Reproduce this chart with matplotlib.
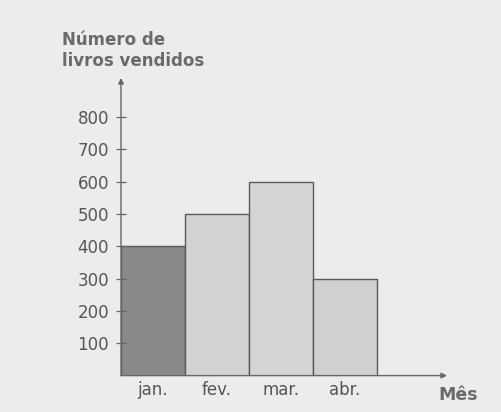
import matplotlib
matplotlib.use('Agg')
import matplotlib.pyplot as plt

meses = ['jan.', 'fev.', 'mar.', 'abr.']
livros = [400, 500, 600, 300]
cores = ['#898989', '#d2d2d2', '#d4d4d4', '#d0d0d0']
yticks = [100, 200, 300, 400, 500, 600, 700, 800]

fig = plt.figure(figsize=(5.01, 4.12), dpi=100, facecolor='#ececec')
ax = fig.add_axes([121 / 501, (412 - 375.6) / 412, 326 / 501, (375.6 - 78) / 412])
ax.set_facecolor('#ececec')

pos = [i + 0.5 for i in range(len(meses))]
ax.bar(pos, livros, width=1.0, color=cores, edgecolor='#5a5a5a', linewidth=1.0)

ax.set_xlim(0, 5.1)
ax.set_ylim(0, 921)
for s in ['top', 'right', 'left', 'bottom']:
    ax.spines[s].set_visible(False)

# eixos com setas
ax.annotate('', xy=(5.1, 0), xytext=(0, 0),
            arrowprops=dict(arrowstyle='-|>', color='#666666', lw=1.0,
                            mutation_scale=8, shrinkA=0, shrinkB=0))
ax.annotate('', xy=(0, 921), xytext=(0, 0),
            arrowprops=dict(arrowstyle='-|>', color='#666666', lw=1.0,
                            mutation_scale=8, shrinkA=0, shrinkB=0))

ax.set_yticks(yticks)
ax.set_yticklabels([str(v) for v in yticks])
ax.tick_params(axis='y', direction='inout', length=7, width=0.9, color='#666666',
               labelsize=12, labelcolor='#555555', pad=5)
ax.set_xticks(pos)
ax.set_xticklabels(meses)
ax.tick_params(axis='x', length=0, labelsize=12, labelcolor='#555555', pad=4)

fig.text(62 / 501, 1 - 40 / 412, 'Número de', ha='left', va='center',
         fontsize=12, fontweight='bold', color='#6a6a6a')
fig.text(62 / 501, 1 - 61 / 412, 'livros vendidos', ha='left', va='center',
         fontsize=12, fontweight='bold', color='#6a6a6a')
fig.text(458 / 501, 1 - 395 / 412, 'Mês', ha='center', va='center',
         fontsize=12.5, fontweight='bold', color='#6a6a6a')

fig.savefig('out.png', dpi=100, facecolor=fig.get_facecolor())
